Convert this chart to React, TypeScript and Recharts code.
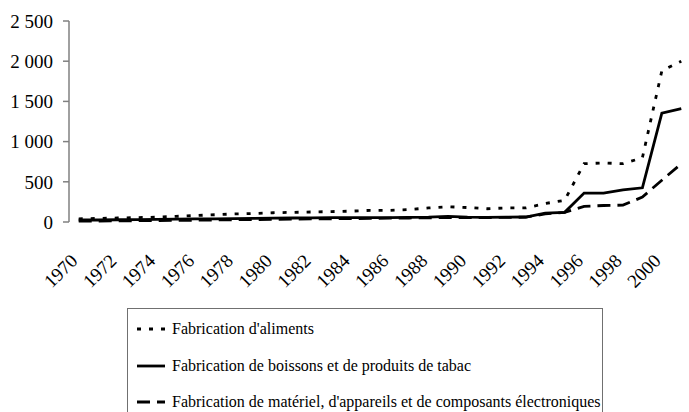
import React from 'react';
import { LineChart, Line, XAxis, YAxis } from 'recharts';

const years = [1970, 1971, 1972, 1973, 1974, 1975, 1976, 1977, 1978, 1979, 1980, 1981, 1982, 1983, 1984, 1985, 1986, 1987, 1988, 1989, 1990, 1991, 1992, 1993, 1994, 1995, 1996, 1997, 1998, 1999, 2000, 2001];
const foodValues = [40, 45, 50, 55, 60, 70, 80, 90, 100, 105, 115, 120, 125, 130, 135, 145, 145, 155, 175, 190, 180, 165, 175, 175, 230, 270, 725, 735, 725, 800, 1880, 2000];
const beverageValues = [25, 25, 28, 30, 32, 35, 38, 40, 42, 45, 48, 50, 52, 55, 55, 55, 55, 58, 60, 70, 60, 58, 60, 62, 110, 120, 360, 360, 400, 425, 1355, 1410];
const electronicsValues = [10, 12, 14, 16, 18, 20, 22, 25, 28, 30, 32, 35, 38, 40, 42, 45, 48, 50, 52, 55, 55, 55, 58, 60, 100, 120, 195, 205, 210, 310, 520, 725];
const yTicks = [0, 500, 1000, 1500, 2000, 2500];
const xLabelYears = [1970, 1972, 1974, 1976, 1978, 1980, 1982, 1984, 1986, 1988, 1990, 1992, 1994, 1996, 1998, 2000];
const xBoundaries = [1969.5, 1970.5, 1971.5, 1972.5, 1973.5, 1974.5, 1975.5, 1976.5, 1977.5, 1978.5, 1979.5, 1980.5, 1981.5, 1982.5, 1983.5, 1984.5, 1985.5, 1986.5, 1987.5, 1988.5, 1989.5, 1990.5, 1991.5, 1992.5, 1993.5, 1994.5, 1995.5, 1996.5, 1997.5, 1998.5, 1999.5, 2000.5, 2001.5];

const series = [
  { key: 'food', name: "Fabrication d'aliments", values: foodValues, dash: '4 8' },
  { key: 'beverage', name: 'Fabrication de boissons et de produits de tabac', values: beverageValues, dash: '' },
  { key: 'electronics', name: "Fabrication de matériel, d'appareils et de composants électroniques", values: electronicsValues, dash: '13 7' },
];

const data = years.map((year, i) => {
  const row: Record<string, number> = { year };
  series.forEach((s) => {
    row[s.key] = s.values[i];
  });
  return row;
});

const FONT = "'Liberation Serif', 'Times New Roman', Times, 'DejaVu Serif', serif";
const AXIS_COLOR = '#808080';

const fmt = (v: number) => String(v).replace(/\B(?=(\d{3})+(?!\d))/g, ' ');

const XLabel = (props: any) => {
  const { x, y, payload } = props;
  const ay = y + 40;
  return (
    <text
      x={x}
      y={ay}
      transform={`rotate(-45 ${x} ${ay})`}
      textAnchor="end"
      style={{ fontFamily: FONT, fontSize: 19 }}
      fill="#000"
    >
      {payload.value}
    </text>
  );
};

export default function App() {
  return (
    <div style={{ position: 'absolute', left: 0, top: 0, width: 689, height: 412, overflow: 'hidden', background: '#fff', fontFamily: FONT }}>
      <LineChart width={700} height={412} data={data} margin={{ top: 21, right: 9, bottom: 0, left: 0 }} style={{ fontFamily: FONT }}>
        <XAxis
          xAxisId="marks"
          type="number"
          dataKey="year"
          domain={[1969.5, 2001.5]}
          ticks={xBoundaries}
          tick={false}
          height={0}
          tickSize={6}
          interval={0}
          stroke={AXIS_COLOR}
          strokeWidth={1.5}
          allowDataOverflow
        />
        <XAxis
          xAxisId="labels"
          type="number"
          dataKey="year"
          domain={[1969.5, 2001.5]}
          ticks={xLabelYears}
          tick={<XLabel />}
          tickLine={false}
          axisLine={false}
          tickSize={0}
          tickMargin={0}
          interval={0}
          height={190}
          allowDataOverflow
        />
        <YAxis
          type="number"
          domain={[0, 2500]}
          ticks={yTicks}
          tickFormatter={fmt}
          width={69}
          tickSize={6}
          tickMargin={10}
          interval={0}
          stroke={AXIS_COLOR}
          strokeWidth={1.5}
          tick={{ fill: '#000', fontSize: 19, style: { fontFamily: FONT } }}
        />
        {series.map((s) => (
          <Line
            key={s.key}
            xAxisId="labels"
            type="linear"
            dataKey={s.key}
            name={s.name}
            stroke="#000"
            strokeWidth={2.8}
            strokeDasharray={s.dash || undefined}
            dot={false}
            activeDot={false}
            isAnimationActive={false}
          />
        ))}
      </LineChart>
      <div
        style={{
          position: 'absolute',
          left: 127,
          top: 308,
          width: 476,
          height: 130,
          border: '1px solid #707070',
          boxSizing: 'border-box',
          fontFamily: FONT,
          fontSize: 16,
          color: '#000',
        }}
      >
        {series.map((s, i) => (
          <div
            key={s.key}
            style={{ position: 'absolute', left: 9, top: 9 + i * 36.5, height: 22, display: 'flex', alignItems: 'center', whiteSpace: 'nowrap' }}
          >
            <svg width={35} height={10} style={{ display: 'block' }}>
              <line x1={0} x2={28} y1={5} y2={5} stroke="#000" strokeWidth={2.8} strokeDasharray={s.dash || undefined} />
            </svg>
            <span>{s.name}</span>
          </div>
        ))}
      </div>
    </div>
  );
}
